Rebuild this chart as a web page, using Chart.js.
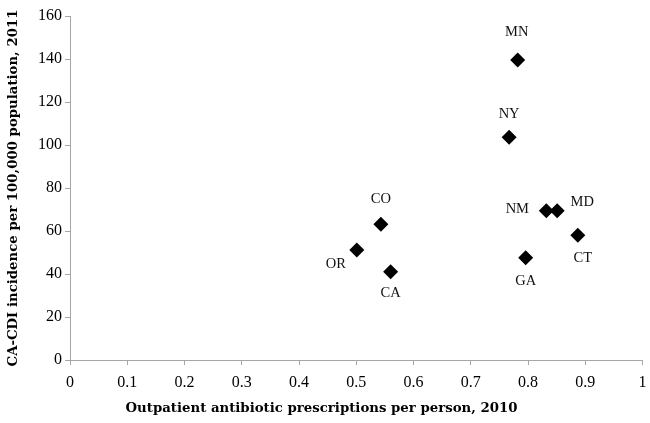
<!DOCTYPE html>
<html>
<head>
    <title>CA-CDI vs outpatient antibiotic prescriptions</title>
    <script src="https://cdn.jsdelivr.net/npm/chart.js"></script>
    <style>
        html, body { margin: 0; padding: 0; background: #fff; }
        #wrap { width: 650px; height: 423px; }
    </style>
</head>
<body>
    <div id="wrap"><canvas id="scatterChart"></canvas></div>

    <script>
        // state, outpatient antibiotic Rx per person (2010), CA-CDI per 100k (2011)
        const states = ['MN', 'NY', 'CO', 'OR', 'CA', 'NM', 'MD', 'CT', 'GA'];
        const rxPerPerson = [0.782, 0.767, 0.543, 0.501, 0.560, 0.832, 0.851, 0.887, 0.796];
        const cdiIncidence = [139.5, 103.6, 63.1, 51.2, 41.1, 69.4, 69.4, 58.0, 47.6];

        // where each state label sits relative to its marker (px)
        const labelOffsets = {
            MN: [-1, -28], NY: [0, -23], CO: [0, -25], OR: [-21, 14], CA: [0, 22],
            NM: [-29, -2], MD: [25, -9], CT: [5, 23], GA: [0, 23]
        };

        const serif = "'Liberation Serif', 'DejaVu Serif', serif";
        const titleSerif = "'DejaVu Serif', serif";
        const axisGray = '#a6a6a6';

        const pointLabels = {
            id: 'pointLabels',
            afterDatasetsDraw(chart) {
                const ctx = chart.ctx;
                const xs = chart.scales.x, ys = chart.scales.y;
                ctx.save();
                ctx.font = '14.5px ' + serif;
                ctx.fillStyle = '#111';
                ctx.textAlign = 'center';
                ctx.textBaseline = 'middle';
                states.forEach((s, i) => {
                    const off = labelOffsets[s];
                    ctx.fillText(s, xs.getPixelForValue(rxPerPerson[i]) + off[0],
                                    ys.getPixelForValue(cdiIncidence[i]) + off[1]);
                });
                ctx.restore();
            }
        };

        const ctx = document.getElementById('scatterChart').getContext('2d');
        new Chart(ctx, {
            type: 'scatter',
            data: {
                datasets: [{
                    data: states.map((s, i) => ({ x: rxPerPerson[i], y: cdiIncidence[i] })),
                    pointStyle: 'rectRot',
                    pointRadius: 7.5,
                    pointHoverRadius: 7.5,
                    backgroundColor: '#000',
                    borderColor: '#000',
                    borderWidth: 0
                }]
            },
            options: {
                responsive: true,
                maintainAspectRatio: false,
                animation: false,
                layout: { padding: { top: 16, right: 7, left: 0, bottom: 0 } },
                plugins: {
                    legend: { display: false },
                    tooltip: { enabled: false },
                    title: {
                        display: true,
                        position: 'bottom',
                        text: 'Outpatient antibiotic prescriptions per person, 2010',
                        color: '#000',
                        font: { family: titleSerif, size: 13.3, weight: 'bold' },
                        padding: { top: 4, bottom: 6 }
                    }
                },
                scales: {
                    x: {
                        type: 'linear',
                        min: 0,
                        max: 1,
                        ticks: {
                            stepSize: 0.1, color: '#000', font: { family: serif, size: 16 }, padding: 8,
                            callback: v => String(Math.round(v * 10) / 10)
                        },
                        grid: { display: true, drawOnChartArea: false, drawTicks: true, tickLength: 5, color: axisGray },
                        border: { color: axisGray, width: 1 },
                        afterFit(scale) {
                            scale.height = 37;
                            scale.paddingLeft = 0;
                            scale.paddingRight = 0;
                        }
                    },
                    y: {
                        min: 0,
                        max: 160,
                        ticks: { stepSize: 20, color: '#000', font: { family: serif, size: 16 }, padding: 3 },
                        grid: { display: true, drawOnChartArea: false, drawTicks: true, tickLength: 5, color: axisGray },
                        border: { color: axisGray, width: 1 },
                        title: {
                            display: true,
                            text: 'CA-CDI incidence per 100,000 population, 2011',
                            color: '#000',
                            font: { family: titleSerif, size: 13.3, weight: 'bold' },
                            padding: { top: 6, bottom: 4 }
                        },
                        afterFit(scale) {
                            scale.width = 70;
                            scale.paddingTop = 0;
                            scale.paddingBottom = 0;
                        }
                    }
                }
            },
            plugins: [pointLabels]
        });
    </script>
</body>
</html>
